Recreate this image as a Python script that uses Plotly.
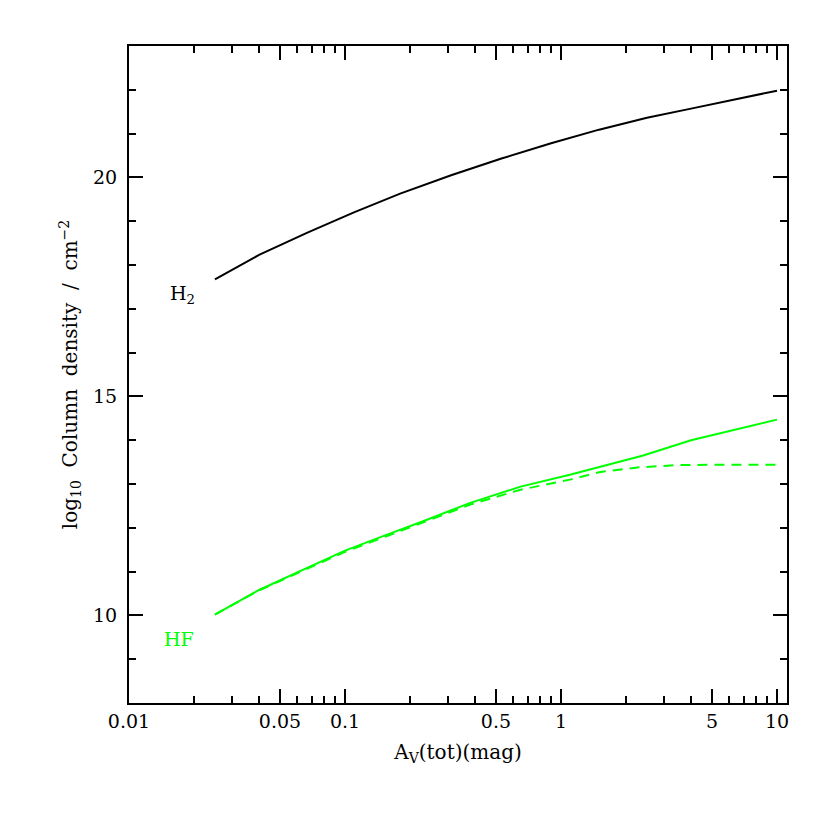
import math
import plotly.graph_objects as go

# Data
h2_av = [0.025, 0.04, 0.067, 0.11, 0.18, 0.31, 0.53, 0.9, 1.5, 2.5, 4.0, 6.3, 10]
h2_logn = [17.67, 18.23, 18.74, 19.20, 19.63, 20.05, 20.43, 20.78, 21.09, 21.36, 21.57, 21.78, 21.98]

hf_av = [0.025, 0.04, 0.063, 0.1, 0.16, 0.23, 0.38, 0.65, 1.1, 1.9, 2.4, 4.0, 6.3, 10]
hf_logn = [10.02, 10.58, 11.03, 11.48, 11.86, 12.15, 12.57, 12.94, 13.21, 13.52, 13.65, 14.00, 14.24, 14.47]

hf2_av = [0.025, 0.04, 0.063, 0.1, 0.16, 0.23, 0.38, 0.65, 1.1, 1.5, 2.3, 3.4, 5, 10]
hf2_logn = [10.02, 10.57, 11.01, 11.45, 11.83, 12.12, 12.53, 12.87, 13.10, 13.27, 13.38, 13.43, 13.44, 13.44]

x_major = [0.01, 0.05, 0.1, 0.5, 1, 5, 10]
x_major_text = ["0.01", "0.05", "0.1", "0.5", "1", "5", "10"]
x_minor = [0.02, 0.03, 0.04, 0.06, 0.07, 0.08, 0.09,
           0.2, 0.3, 0.4, 0.6, 0.7, 0.8, 0.9,
           2, 3, 4, 6, 7, 8, 9]
y_major = [10, 15, 20]
y_minor = [9, 11, 12, 13, 14, 16, 17, 18, 19, 21, 22]

FONT = "DejaVu Serif"
GREEN = "#00ff00"
FS = 19

fig = go.Figure()
fig.add_trace(go.Scatter(x=h2_av, y=h2_logn, mode="lines",
                         line=dict(color="black", width=2), showlegend=False))
fig.add_trace(go.Scatter(x=hf_av, y=hf_logn, mode="lines",
                         line=dict(color=GREEN, width=2), showlegend=False))
fig.add_trace(go.Scatter(x=hf2_av, y=hf2_logn, mode="lines",
                         line=dict(color=GREEN, width=2, dash="10px,7px"), showlegend=False))

fig.add_annotation(x=math.log10(0.0176), y=17.33, text="H<sub>2</sub>", showarrow=False,
                   font=dict(family=FONT, size=FS, color="black"))
fig.add_annotation(x=math.log10(0.017), y=9.47, text="HF", showarrow=False,
                   font=dict(family=FONT, size=FS, color=GREEN))

axis_common = dict(showline=True, linecolor="black", linewidth=2, mirror="ticks",
                   ticks="inside", ticklen=14, tickwidth=2, tickcolor="black",
                   showgrid=False, zeroline=False,
                   tickfont=dict(family=FONT, size=FS, color="black"))

fig.update_xaxes(type="log", range=[-2, 1.0463], tickmode="array",
                 tickvals=x_major, ticktext=x_major_text,
                 minor=dict(tickmode="array", tickvals=x_minor, ticks="inside",
                            ticklen=7, tickwidth=1.5, tickcolor="black", showgrid=False),
                 title=dict(text="A<sub>V</sub>(tot)(mag)",
                            font=dict(family=FONT, size=FS + 1, color="black"), standoff=14),
                 ticklabelstandoff=0,
                 **axis_common)
fig.update_yaxes(range=[8, 23], tickmode="array", tickvals=y_major,
                 ticktext=[str(v) for v in y_major],
                 minor=dict(tickmode="array", tickvals=y_minor, ticks="inside",
                            ticklen=7, tickwidth=1.5, tickcolor="black", showgrid=False),
                 title=dict(text="log<sub>10</sub>  Column  density  /  cm<sup>−2</sup>",
                            font=dict(family=FONT, size=FS + 1, color="black"), standoff=10),
                 ticklabelstandoff=6,
                 **axis_common)

fig.update_layout(width=830, height=830, margin=dict(l=121, r=51, t=38, b=135),
                  plot_bgcolor="white", paper_bgcolor="white")

fig.write_html("out.html")
